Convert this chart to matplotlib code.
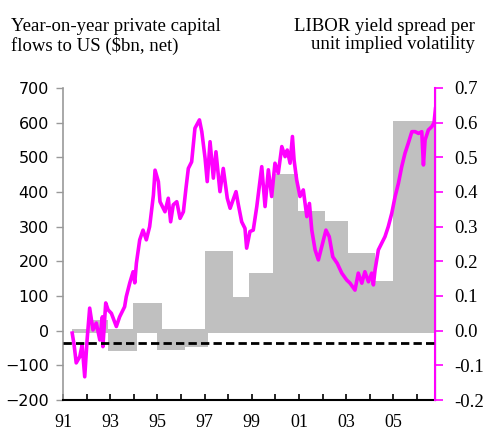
import matplotlib
matplotlib.use("Agg")
import matplotlib.pyplot as plt
import numpy as np

# capital flows (left axis, $bn) - block bars: start year, end year, value
flow_start = [1991.37, 1992.0, 1992.9, 1993.95, 1994.97, 1996.17, 1997.0, 1998.2,
              1998.9, 1999.9, 2000.97, 2002.1, 2003.06, 2004.2, 2004.97]
flow_end = [1992.0, 1992.9, 1994.15, 1995.2, 1996.17, 1997.15, 1998.2, 1998.9,
            1999.9, 2000.97, 2002.1, 2003.06, 2004.2, 2004.97, 2006.76]
flow_value = [5, 31, -58, 81, -56, -46, 231, 98, 167, 452, 346, 317, 225, 142, 606]

# LIBOR yield spread per unit implied volatility (right axis)
spread_year = [1991.39, 1991.47, 1991.56, 1991.71, 1991.81, 1991.92, 1992.02, 1992.13,
               1992.27, 1992.41, 1992.56, 1992.67, 1992.69, 1992.81, 1992.91, 1993.05,
               1993.26, 1993.40, 1993.61, 1993.68, 1993.83, 1993.97, 1994.04, 1994.11,
               1994.25, 1994.39, 1994.53, 1994.67, 1994.83, 1994.90, 1995.04, 1995.11,
               1995.32, 1995.46, 1995.56, 1995.67, 1995.82, 1995.96, 1996.10, 1996.21,
               1996.31, 1996.45, 1996.59, 1996.78, 1996.88, 1997.02, 1997.11, 1997.23,
               1997.37, 1997.48, 1997.65, 1997.79, 1997.96, 1998.08, 1998.33, 1998.43,
               1998.57, 1998.71, 1998.78, 1998.92, 1999.06, 1999.21, 1999.42, 1999.56,
               1999.70, 1999.84, 1999.98, 2000.12, 2000.27, 2000.41, 2000.50, 2000.62,
               2000.72, 2000.79, 2000.90, 2001.04, 2001.18, 2001.33, 2001.44, 2001.54,
               2001.68, 2001.82, 2001.96, 2002.14, 2002.28, 2002.43, 2002.62, 2002.81,
               2003.02, 2003.16, 2003.37, 2003.51, 2003.66, 2003.79, 2003.94, 2004.08,
               2004.15, 2004.22, 2004.36, 2004.50, 2004.64, 2004.78, 2004.93, 2005.07,
               2005.21, 2005.35, 2005.49, 2005.63, 2005.78, 2005.92, 2006.06, 2006.20,
               2006.27, 2006.34, 2006.48, 2006.62, 2006.72, 2006.78]
spread_value = [-0.007, -0.041, -0.093, -0.075, -0.041, -0.133, -0.027, 0.065,
                0.002, 0.022, -0.027, 0.040, -0.046, 0.080, 0.060, 0.050,
                0.012, 0.040, 0.069, 0.098, 0.138, 0.170, 0.138, 0.195,
                0.262, 0.290, 0.262, 0.300, 0.391, 0.463, 0.430, 0.372,
                0.343, 0.382, 0.314, 0.363, 0.372, 0.324, 0.343, 0.411,
                0.468, 0.487, 0.584, 0.608, 0.574, 0.497, 0.430, 0.545,
                0.440, 0.516, 0.401, 0.468, 0.382, 0.353, 0.401, 0.363,
                0.314, 0.295, 0.238, 0.286, 0.290, 0.358, 0.473, 0.358,
                0.464, 0.387, 0.483, 0.454, 0.531, 0.502, 0.521, 0.483,
                0.560, 0.492, 0.435, 0.387, 0.406, 0.329, 0.367, 0.290,
                0.233, 0.204, 0.242, 0.290, 0.271, 0.213, 0.194, 0.166,
                0.146, 0.137, 0.117, 0.166, 0.137, 0.170, 0.141, 0.166,
                0.132, 0.175, 0.233, 0.252, 0.271, 0.300, 0.339, 0.387,
                0.425, 0.473, 0.512, 0.541, 0.574, 0.574, 0.569, 0.574,
                0.478, 0.550, 0.579, 0.588, 0.600, 0.640]

ref_level = -0.036

year_ticks = list(range(1991, 2007))
year_labels = ["%02d" % (y % 100) if y % 2 == 1 else "" for y in year_ticks]

plt.rcParams['lines.scale_dashes'] = False
serif = "Liberation Serif"

fig = plt.figure(figsize=(4.85, 4.33), dpi=100)
ax = fig.add_axes([0.1299, 0.0762, 0.767, 0.7206])
ax2 = ax.twinx()

for s, e, v in zip(flow_start, flow_end, flow_value):
    if v >= 0:
        ax.bar(s, v + 6, e - s, bottom=-6, align="edge", color="#c0c0c0", lw=0, zorder=1)
    else:
        ax.bar(s, v - 5, e - s, bottom=5, align="edge", color="#c0c0c0", lw=0, zorder=1)

ax2.plot(spread_year, spread_value, color="#ff00ff", lw=2.6, zorder=3)
ax2.axhline(ref_level, color="black", lw=2, dashes=(6, 3), zorder=4)

ax.set_xlim(1991, 2006.76)
ax.set_ylim(-200, 700)
ax2.set_ylim(-0.2, 0.7)

ax.set_yticks(range(-200, 701, 100))
ax.tick_params(axis="y", direction="out", length=5, width=1, color="#999999",
               labelsize=11.5, pad=5)
ax.set_xticks(year_ticks)
ax.set_xticklabels(year_labels, fontfamily=serif)
ax.tick_params(axis="x", direction="in", length=4, width=1.2, color="black",
               labelsize=13, pad=10)

ax2.set_yticks(np.arange(-0.2, 0.71, 0.1))
ax2.set_yticklabels(["%.1f" % t for t in np.arange(-0.2, 0.71, 0.1)], fontfamily=serif)
ax2.tick_params(axis="y", direction="out", length=6, width=1.2, color="#ff00ff",
                labelsize=13.5, pad=8)

for a in (ax, ax2):
    a.spines["top"].set_visible(False)
ax.spines["left"].set_color("#999999")
ax.spines["left"].set_linewidth(1.2)
ax.spines["bottom"].set_color("black")
ax.spines["bottom"].set_linewidth(1.5)
ax2.spines["left"].set_visible(False)
ax2.spines["bottom"].set_visible(False)
ax2.spines["right"].set_color("#ff00ff")
ax2.spines["right"].set_linewidth(1.5)

fig.text(0.023, 0.958, "Year-on-year private capital\nflows to US ($bn, net)",
         ha="left", va="top", fontsize=13.5, fontfamily=serif, linespacing=1.1)
fig.text(0.98, 0.958, "LIBOR yield spread per\nunit implied volatility",
         ha="right", va="top", fontsize=13.5, fontfamily=serif, linespacing=1.1,
         multialignment="right")

plt.savefig("out.png", dpi=100)
